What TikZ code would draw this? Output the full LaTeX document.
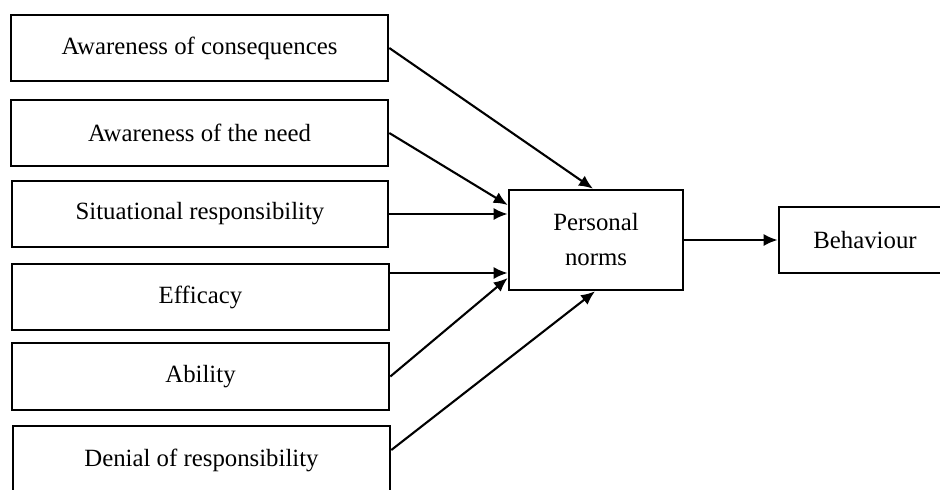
\documentclass[tikz,border=0pt]{standalone}
\usepackage{fontspec}
\setmainfont{Liberation Serif}
\usetikzlibrary{arrows.meta}

\newlength{\du}
\setlength{\du}{0.5pt}

\tikzset{
  factorbox/.style={draw=black, line width=2.6\du, minimum width=377\du, minimum height=66\du,
    inner sep=0pt, font=\fontsize{12.4}{17.5}\selectfont},
  normbox/.style={factorbox, minimum width=174\du, minimum height=100\du, align=center},
  link/.style={draw=black, line width=2.1\du, -{Latex[length=7pt,width=6pt]}}
}

\begin{document}
\begin{tikzpicture}
\useasboundingbox (0\du,0\du) rectangle (940\du,-489\du);
\clip (0\du,0\du) rectangle (940\du,-489\du);
% factors
\node[factorbox] (conseq) at (199.5\du,-48\du){Awareness of consequences};
\node[factorbox] (need) at (199.5\du,-133\du){Awareness of the need};
\node[factorbox, minimum width=376\du] (situ) at (200\du,-214\du){Situational responsibility};
\node[factorbox] (effic) at (200.5\du,-297\du){Efficacy};
\node[factorbox, minimum height=67\du] (abil) at (200.5\du,-376.5\du){Ability};
\node[factorbox, minimum height=68\du] (denial) at (201.5\du,-460\du){Denial of responsibility};
% norms and behaviour
\node[normbox] (norms) at (596\du,-240\du){Personal\\norms};
\node[factorbox, minimum width=172\du] (behav) at (865\du,-240\du){Behaviour};
% links
\draw[link] (conseq.east) -- ([xshift=-3\du]norms.north);
\draw[link] (need.east) -- ([yshift=35\du]norms.west);
\draw[link] (situ.east) -- (situ.east -| norms.west);
\draw[link] ([yshift=24\du]effic.east) -- ([yshift=24\du]effic.east -| norms.west);
\draw[link] (abil.east) -- ([yshift=-38\du]norms.west);
\draw[link] ([yshift=10\du]denial.east) -- ([xshift=-1\du]norms.south);
\draw[link] (norms.east) -- (behav.west);
\end{tikzpicture}
\end{document}
